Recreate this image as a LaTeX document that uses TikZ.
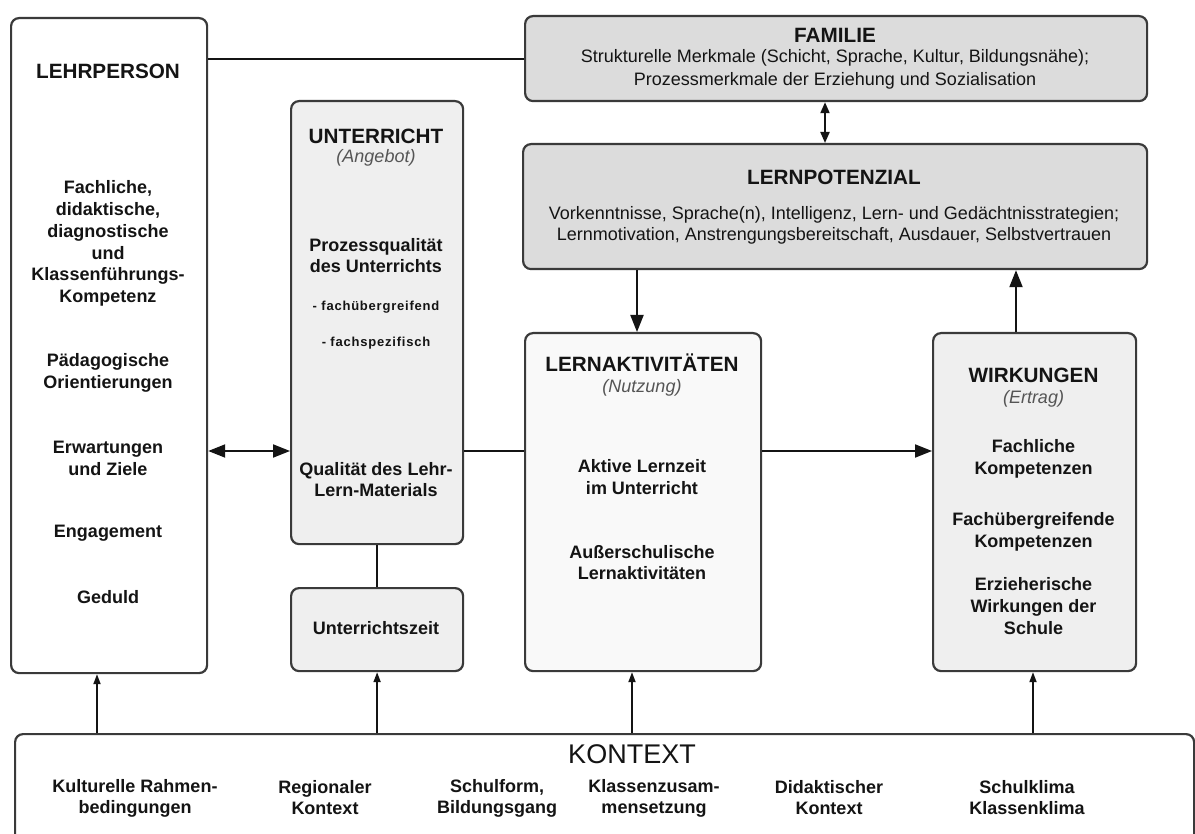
\documentclass[tikz,border=0pt]{standalone}
\usepackage{fontspec}
\setmainfont{Liberation Sans}
\usetikzlibrary{arrows.meta}
\definecolor{bordergray}{HTML}{3A3A3A}
\definecolor{filldark}{HTML}{DCDCDC}
\definecolor{filllight}{HTML}{EFEFEF}
\definecolor{fillpale}{HTML}{F9F9F9}
\definecolor{txt}{HTML}{141414}
\definecolor{subtxt}{HTML}{555555}
\tikzset{
  box/.style={draw=bordergray, line width=2.2pt, rounded corners=8pt, anchor=north west, inner sep=0pt},
  ttl/.style={text=txt, font=\fontsize{20.7}{23}\selectfont\bfseries, inner sep=0pt},
  sub/.style={text=subtxt, font=\fontsize{18}{21}\selectfont\itshape, inner sep=0pt},
  body/.style={text=txt, font=\fontsize{18}{21.8}\selectfont\bfseries, align=center, inner sep=0pt},
  plain/.style={text=txt, font=\fontsize{18}{23}\selectfont, align=center, inner sep=0pt},
  tiny/.style={text=txt, font=\fontsize{13}{15}\selectfont\bfseries\addfontfeature{LetterSpace=6}, inner sep=0pt},
  conn/.style={draw=txt, line width=2pt},
  bigarrow/.style={conn, -{Triangle[length=17pt,width=13pt]}},
  bigdouble/.style={conn, {Triangle[length=17pt,width=13pt]}-{Triangle[length=17pt,width=13pt]}},
  smalldouble/.style={conn, {Triangle[length=11pt,width=9pt]}-{Triangle[length=11pt,width=9pt]}},
  ctxarrow/.style={draw=txt, line width=1.8pt, -{Triangle[length=10pt,width=7pt]}},
}
\begin{document}
\begin{tikzpicture}[x=1pt,y=-1pt]
\useasboundingbox (0,0) rectangle (1195,834);
\fill[white] (0,0) rectangle (1195,834);

% boxes
\node[box, fill=white, minimum width=196pt, minimum height=655pt] (lehr) at (10,17) {};
\node[box, fill=filllight, minimum width=172pt, minimum height=443pt] (unt) at (290,100) {};
\node[box, fill=filllight, minimum width=172pt, minimum height=83pt] (uzeit) at (290,587) {};
\node[box, fill=filldark, minimum width=622pt, minimum height=85pt] (fam) at (524,15) {};
\node[box, fill=filldark, minimum width=624pt, minimum height=125pt] (lpot) at (522,143) {};
\node[box, fill=fillpale, minimum width=236pt, minimum height=338pt] (lakt) at (524,332) {};
\node[box, fill=filllight, minimum width=203pt, minimum height=338pt] (wirk) at (932,332) {};
\node[box, fill=white, minimum width=1179pt, minimum height=140pt] (kont) at (14,733) {};

% Lehrperson texts
\node[ttl] (lehrT) at (108,71) {LEHRPERSON};
\node[body] (lehrA) at (108,243.5) {Fachliche,\\didaktische,\\diagnostische\\und\\Klassenführungs-\\Kompetenz};
\node[body] (lehrB) at (108,372.5) {Pädagogische\\Orientierungen};
\node[body] (lehrC) at (108,458) {Erwartungen\\und Ziele};
\node[body] (lehrD) at (108,533) {Engagement};
\node[body] (lehrE) at (108,597) {Geduld};

% Unterricht texts
\node[ttl] (untT) at (376,136) {UNTERRICHT};
\node[sub] (untS) at (376,158) {(Angebot)};
\node[body] (untA) at (376,255.5) {Prozessqualität\\des Unterrichts};
\node[tiny] (untB) at (376,307) {- fachübergreifend};
\node[tiny] (untC) at (376,343) {- fachspezifisch};
\node[body] (untD) at (376,479.5) {Qualität des Lehr-\\Lern-Materials};
\node[body] (uzeitT) at (376,628) {Unterrichtszeit};

% Familie and Lernpotenzial
\node[ttl] (famT) at (835,35) {FAMILIE};
\node[plain] (famA) at (835,69.5) {Strukturelle Merkmale (Schicht, Sprache, Kultur, Bildungsnähe);\\Prozessmerkmale der Erziehung und Sozialisation};
\node[ttl] (lpotT) at (834,177) {LERNPOTENZIAL};
\node[plain, font=\fontsize{18}{21}\selectfont] (lpotA) at (834,225) {Vorkenntnisse, Sprache(n), Intelligenz, Lern- und Gedächtnisstrategien;\\Lernmotivation, Anstrengungsbereitschaft, Ausdauer, Selbstvertrauen};

% Lernaktivitaeten
\node[ttl] (laktT) at (642,363) {LERNAKTIVITÄTEN};
\node[sub] (laktS) at (642,388) {(Nutzung)};
\node[body] (laktA) at (642,477) {Aktive Lernzeit\\im Unterricht};
\node[body] (laktB) at (642,562.5) {Außerschulische\\Lernaktivitäten};

% Wirkungen
\node[ttl] (wirkT) at (1033.5,375) {WIRKUNGEN};
\node[sub] (wirkS) at (1033.5,399) {(Ertrag)};
\node[body] (wirkA) at (1033.5,458.5) {Fachliche\\Kompetenzen};
\node[body] (wirkB) at (1033.5,532) {Fachübergreifende\\Kompetenzen};
\node[body] (wirkC) at (1033.5,606) {Erzieherische\\Wirkungen der\\Schule};

% Kontext
\node[text=txt, font=\fontsize{27}{30}\selectfont, inner sep=0pt] (kontT) at (632,754) {KONTEXT};
\node[body, font=\fontsize{18}{21}\selectfont\bfseries] (k1) at (135,798) {Kulturelle Rahmen-\\bedingungen};
\node[body, font=\fontsize{18}{21}\selectfont\bfseries] (k2) at (325,798) {Regionaler\\Kontext};
\node[body, font=\fontsize{18}{21}\selectfont\bfseries] (k3) at (497,798) {Schulform,\\Bildungsgang};
\node[body, font=\fontsize{18}{21}\selectfont\bfseries] (k4) at (654,798) {Klassenzusam-\\mensetzung};
\node[body, font=\fontsize{18}{21}\selectfont\bfseries] (k5) at (829,798) {Didaktischer\\Kontext};
\node[body, font=\fontsize{18}{21}\selectfont\bfseries] (k6) at (1027,798) {Schulklima\\Klassenklima};

% helper coordinates
\coordinate (midrow) at (0,451);
\coordinate (xfam) at (825,0);
\coordinate (xdown) at (637,0);
\coordinate (xup) at (1016,0);
\coordinate (xlehr) at (97,0);
\coordinate (xlakt) at (632,0);
\coordinate (xwirk) at (1033,0);

% connectors
\draw[conn] (lehr.east |- fam.west) -- (fam.west);
\draw[smalldouble] (fam.south -| xfam) -- (lpot.north -| xfam);
\draw[bigarrow] (lpot.south -| xdown) -- (lakt.north -| xdown);
\draw[bigarrow] (wirk.north -| xup) -- (lpot.south -| xup);
\draw[bigdouble] (lehr.east |- midrow) -- (unt.west |- midrow);
\draw[conn] (unt.east |- midrow) -- (lakt.west |- midrow);
\draw[bigarrow] (lakt.east |- midrow) -- (wirk.west |- midrow);
\draw[conn] (unt.south) -- (uzeit.north);
\draw[ctxarrow] (kont.north -| xlehr) -- (lehr.south -| xlehr);
\draw[ctxarrow] (kont.north -| uzeit.south) -- (uzeit.south);
\draw[ctxarrow] (kont.north -| xlakt) -- (lakt.south -| xlakt);
\draw[ctxarrow] (kont.north -| xwirk) -- (wirk.south -| xwirk);
\end{tikzpicture}
\end{document}
